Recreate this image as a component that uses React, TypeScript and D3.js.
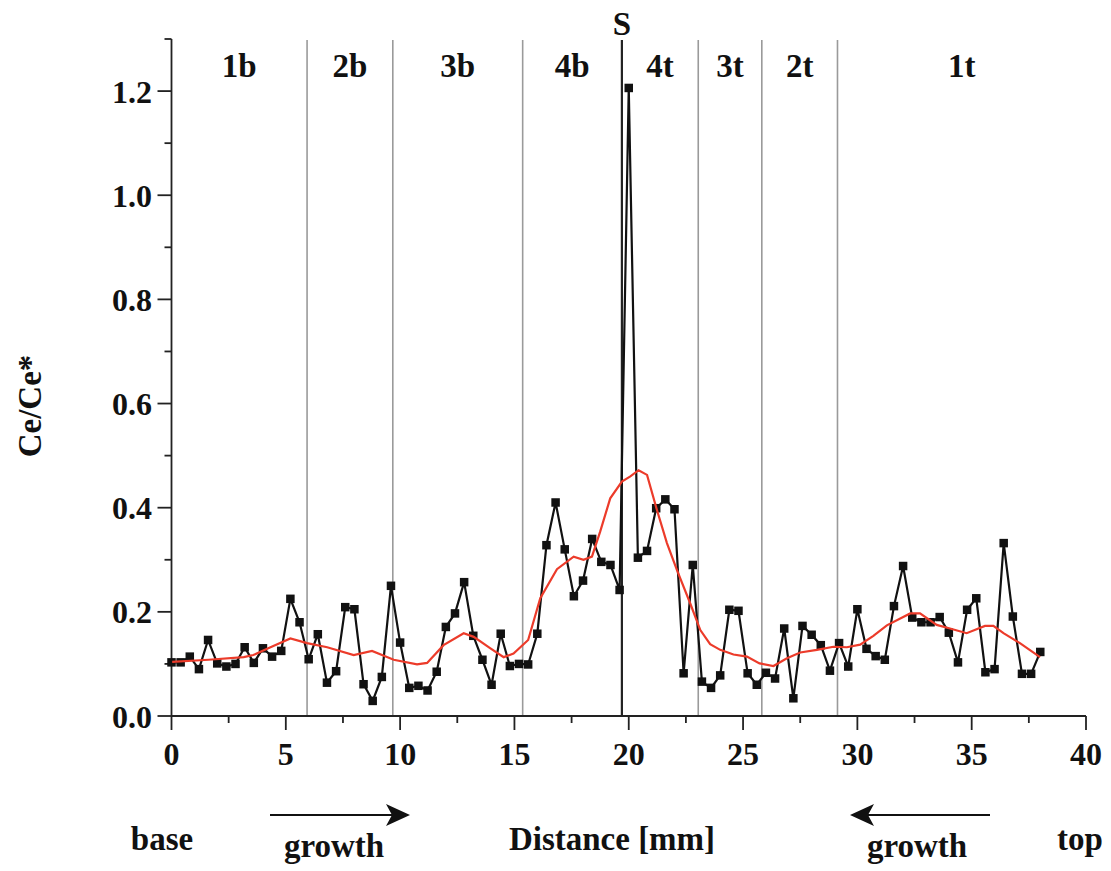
import React from "react";
import * as d3 from "d3";

// Measured Ce/Ce* values (black squares)
const distanceMm = [
  0.0, 0.4, 0.8, 1.2, 1.6, 2.0, 2.4, 2.8, 3.2, 3.6, 4.0, 4.4, 4.8, 5.2, 5.6, 6.0,
  6.4, 6.8, 7.2, 7.6, 8.0, 8.4, 8.8, 9.2, 9.6, 10.0, 10.4, 10.8, 11.2, 11.6, 12.0,
  12.4, 12.8, 13.2, 13.6, 14.0, 14.4, 14.8, 15.2, 15.6, 16.0, 16.4, 16.8, 17.2,
  17.6, 18.0, 18.4, 18.8, 19.2, 19.6, 20.0, 20.4, 20.8, 21.2, 21.6, 22.0, 22.4,
  22.8, 23.2, 23.6, 24.0, 24.4, 24.8, 25.2, 25.6, 26.0, 26.4, 26.8, 27.2, 27.6,
  28.0, 28.4, 28.8, 29.2, 29.6, 30.0, 30.4, 30.8, 31.2, 31.6, 32.0, 32.4, 32.8,
  33.2, 33.6, 34.0, 34.4, 34.8, 35.2, 35.6, 36.0, 36.4, 36.8, 37.2, 37.6, 38.0,
];
const ceAnomaly = [
  0.103, 0.103, 0.114, 0.09, 0.146, 0.101, 0.095, 0.1, 0.132, 0.102, 0.13, 0.114,
  0.125, 0.225, 0.18, 0.109, 0.157, 0.064, 0.086, 0.209, 0.205, 0.061, 0.029,
  0.075, 0.25, 0.141, 0.054, 0.058, 0.049, 0.085, 0.171, 0.197, 0.257, 0.154,
  0.108, 0.06, 0.158, 0.096, 0.1, 0.099, 0.158, 0.328, 0.41, 0.32, 0.23, 0.26,
  0.34, 0.296, 0.29, 0.242, 1.206, 0.304, 0.317, 0.399, 0.416, 0.397, 0.082,
  0.29, 0.066, 0.054, 0.078, 0.204, 0.202, 0.082, 0.06, 0.083, 0.072, 0.168,
  0.034, 0.173, 0.156, 0.136, 0.087, 0.14, 0.095, 0.205, 0.129, 0.115, 0.108,
  0.211, 0.288, 0.189, 0.18, 0.18, 0.19, 0.16, 0.103, 0.204, 0.226, 0.084, 0.09,
  0.332, 0.191, 0.081, 0.081, 0.123,
];

// Smoothed trend (red line)
const smoothX = [
  0.03, 1.62, 3.16, 3.58, 4.33, 5.2, 5.93, 6.81, 7.97, 8.77, 9.72, 10.74, 11.18,
  11.9, 12.78, 13.22, 13.95, 14.53, 14.96, 15.6, 16.13, 16.86, 17.59, 18.02,
  18.39, 18.75, 19.19, 19.7, 20.07, 20.43, 20.8, 21.23, 21.67, 22.11, 22.69,
  23.13, 23.56, 24.0, 24.58, 25.17, 25.72, 26.33, 26.92, 27.5, 28.23, 28.95,
  29.54, 30.12, 30.7, 31.29, 32.31, 32.74, 33.47, 34.05, 34.78, 35.58, 35.95,
  36.39, 37.11, 37.99,
];
const smoothY = [
  0.104, 0.108, 0.113, 0.117, 0.132, 0.149, 0.14, 0.132, 0.117, 0.125, 0.108,
  0.099, 0.102, 0.136, 0.159, 0.152, 0.13, 0.113, 0.12, 0.146, 0.226, 0.282,
  0.306, 0.3, 0.306, 0.354, 0.418, 0.45, 0.46, 0.472, 0.463, 0.396, 0.332, 0.28,
  0.216, 0.165, 0.138, 0.127, 0.118, 0.114, 0.101, 0.096, 0.111, 0.122, 0.127,
  0.133, 0.132, 0.137, 0.154, 0.174, 0.197, 0.197, 0.175, 0.168, 0.159, 0.173,
  0.173, 0.159, 0.14, 0.113,
];

// Growth zone boundaries and labels
const zoneBoundaries = [5.93, 9.68, 15.36, 23.04, 25.82, 29.13];
const surfaceS = 19.7;
const zoneEdges = [0, 5.93, 9.68, 15.36, 19.7, 23.04, 25.82, 29.13, 40];
const zoneLabels = ["1b", "2b", "3b", "4b", "4t", "3t", "2t", "1t"];

const xMajorTicks = [0, 5, 10, 15, 20, 25, 30, 35, 40];
const xMinorTicks = [2.5, 7.5, 12.5, 17.5, 22.5, 27.5, 32.5, 37.5];
const yMajorTicks = [0, 0.2, 0.4, 0.6, 0.8, 1.0, 1.2];
const yMinorTicks = [0.1, 0.3, 0.5, 0.7, 0.9, 1.1, 1.3];

const FONT = "'Liberation Serif', 'Times New Roman', serif";

export default function App() {
  const x = d3.scaleLinear().domain([0, 40]).range([171.5, 1086]);
  const y = d3.scaleLinear().domain([0, 1.3]).range([716, 39]);

  const pts = distanceMm.map((d, i) => [d, ceAnomaly[i]] as [number, number]);
  const smooth = smoothX.map((d, i) => [d, smoothY[i]] as [number, number]);
  const line = d3
    .line<[number, number]>()
    .x((d) => x(d[0]))
    .y((d) => y(d[1]));

  const axisColor = "#222";
  const top = y(1.3);

  const arrowY = 815;
  const ms = 8.5;

  return (
    <svg
      width={1111}
      height={871}
      style={{ position: "absolute", left: 0, top: 0, background: "#fff" }}
      fontFamily={FONT}
      fontWeight="bold"
    >
      <rect x={0} y={0} width={1111} height={871} fill="#fff" />
      {/* zone lines */}
      {zoneBoundaries.map((b, i) => (
        <line
          key={"z" + i}
          x1={x(b)}
          x2={x(b)}
          y1={top + 1}
          y2={y(0)}
          stroke="#9a9a9a"
          strokeWidth={1.6}
        />
      ))}
      <line
        x1={x(surfaceS)}
        x2={x(surfaceS)}
        y1={top + 1}
        y2={y(0)}
        stroke="#222"
        strokeWidth={2.2}
      />
      <text x={x(surfaceS)} y={35} textAnchor="middle" fontSize={33} fill="#111">
        S
      </text>
      {zoneLabels.map((l, i) => (
        <text
          key={"zl" + i}
          x={(x(zoneEdges[i]) + x(zoneEdges[i + 1])) / 2}
          y={77}
          textAnchor="middle"
          fontSize={33}
          fill="#111"
        >
          {l}
        </text>
      ))}

      {/* axes */}
      <line x1={171.5} x2={171.5} y1={top} y2={y(0)} stroke={axisColor} strokeWidth={1.8} />
      <line x1={171.5} x2={x(40)} y1={y(0)} y2={y(0)} stroke={axisColor} strokeWidth={1.8} />
      {xMajorTicks.map((t) => (
        <g key={"xt" + t}>
          <line x1={x(t)} x2={x(t)} y1={y(0)} y2={y(0) + 14} stroke={axisColor} strokeWidth={1.8} />
          <text x={x(t)} y={765} textAnchor="middle" fontSize={32} fill="#111">
            {t}
          </text>
        </g>
      ))}
      {xMinorTicks.map((t) => (
        <line key={"xm" + t} x1={x(t)} x2={x(t)} y1={y(0)} y2={y(0) + 7} stroke={axisColor} strokeWidth={1.8} />
      ))}
      {yMajorTicks.map((t) => (
        <g key={"yt" + t}>
          <line x1={171.5} x2={171.5 - 14} y1={y(t)} y2={y(t)} stroke={axisColor} strokeWidth={1.8} />
          <text x={152} y={y(t) + 11.5} textAnchor="end" fontSize={32} fill="#111">
            {t.toFixed(1)}
          </text>
        </g>
      ))}
      {yMinorTicks.map((t) => (
        <line key={"ym" + t} x1={171.5} x2={171.5 - 7} y1={y(t)} y2={y(t)} stroke={axisColor} strokeWidth={1.8} />
      ))}

      {/* data */}
      <path d={line(pts) || ""} fill="none" stroke="#111" strokeWidth={2.2} strokeLinejoin="miter" />
      {pts.map((p, i) => (
        <rect
          key={"p" + i}
          x={x(p[0]) - ms / 2}
          y={y(p[1]) - ms / 2}
          width={ms}
          height={ms}
          fill="#111"
        />
      ))}
      <path d={line(smooth) || ""} fill="none" stroke="#ec3b2a" strokeWidth={2.2} />

      {/* axis titles */}
      <text
        transform="translate(41,406) rotate(-90)"
        textAnchor="middle"
        fontSize={33}
        fill="#111"
      >
        Ce/Ce*
      </text>
      <text x={162} y={850} textAnchor="middle" fontSize={33} fill="#111">base</text>
      <text x={612} y={850} textAnchor="middle" fontSize={33} fill="#111">Distance [mm]</text>
      <text x={1080} y={850} textAnchor="middle" fontSize={33} fill="#111">top</text>
      <text x={334} y={857} textAnchor="middle" fontSize={33} fill="#111">growth</text>
      <text x={917} y={857} textAnchor="middle" fontSize={33} fill="#111">growth</text>

      {/* arrows */}
      <line x1={270} x2={398} y1={arrowY} y2={arrowY} stroke="#111" strokeWidth={2.2} />
      <path d={`M410,${arrowY} L386,${arrowY - 11} L392,${arrowY} L386,${arrowY + 11} Z`} fill="#111" />
      <line x1={990} x2={862} y1={arrowY} y2={arrowY} stroke="#111" strokeWidth={2.2} />
      <path d={`M850,${arrowY} L874,${arrowY - 11} L868,${arrowY} L874,${arrowY + 11} Z`} fill="#111" />
    </svg>
  );
}
